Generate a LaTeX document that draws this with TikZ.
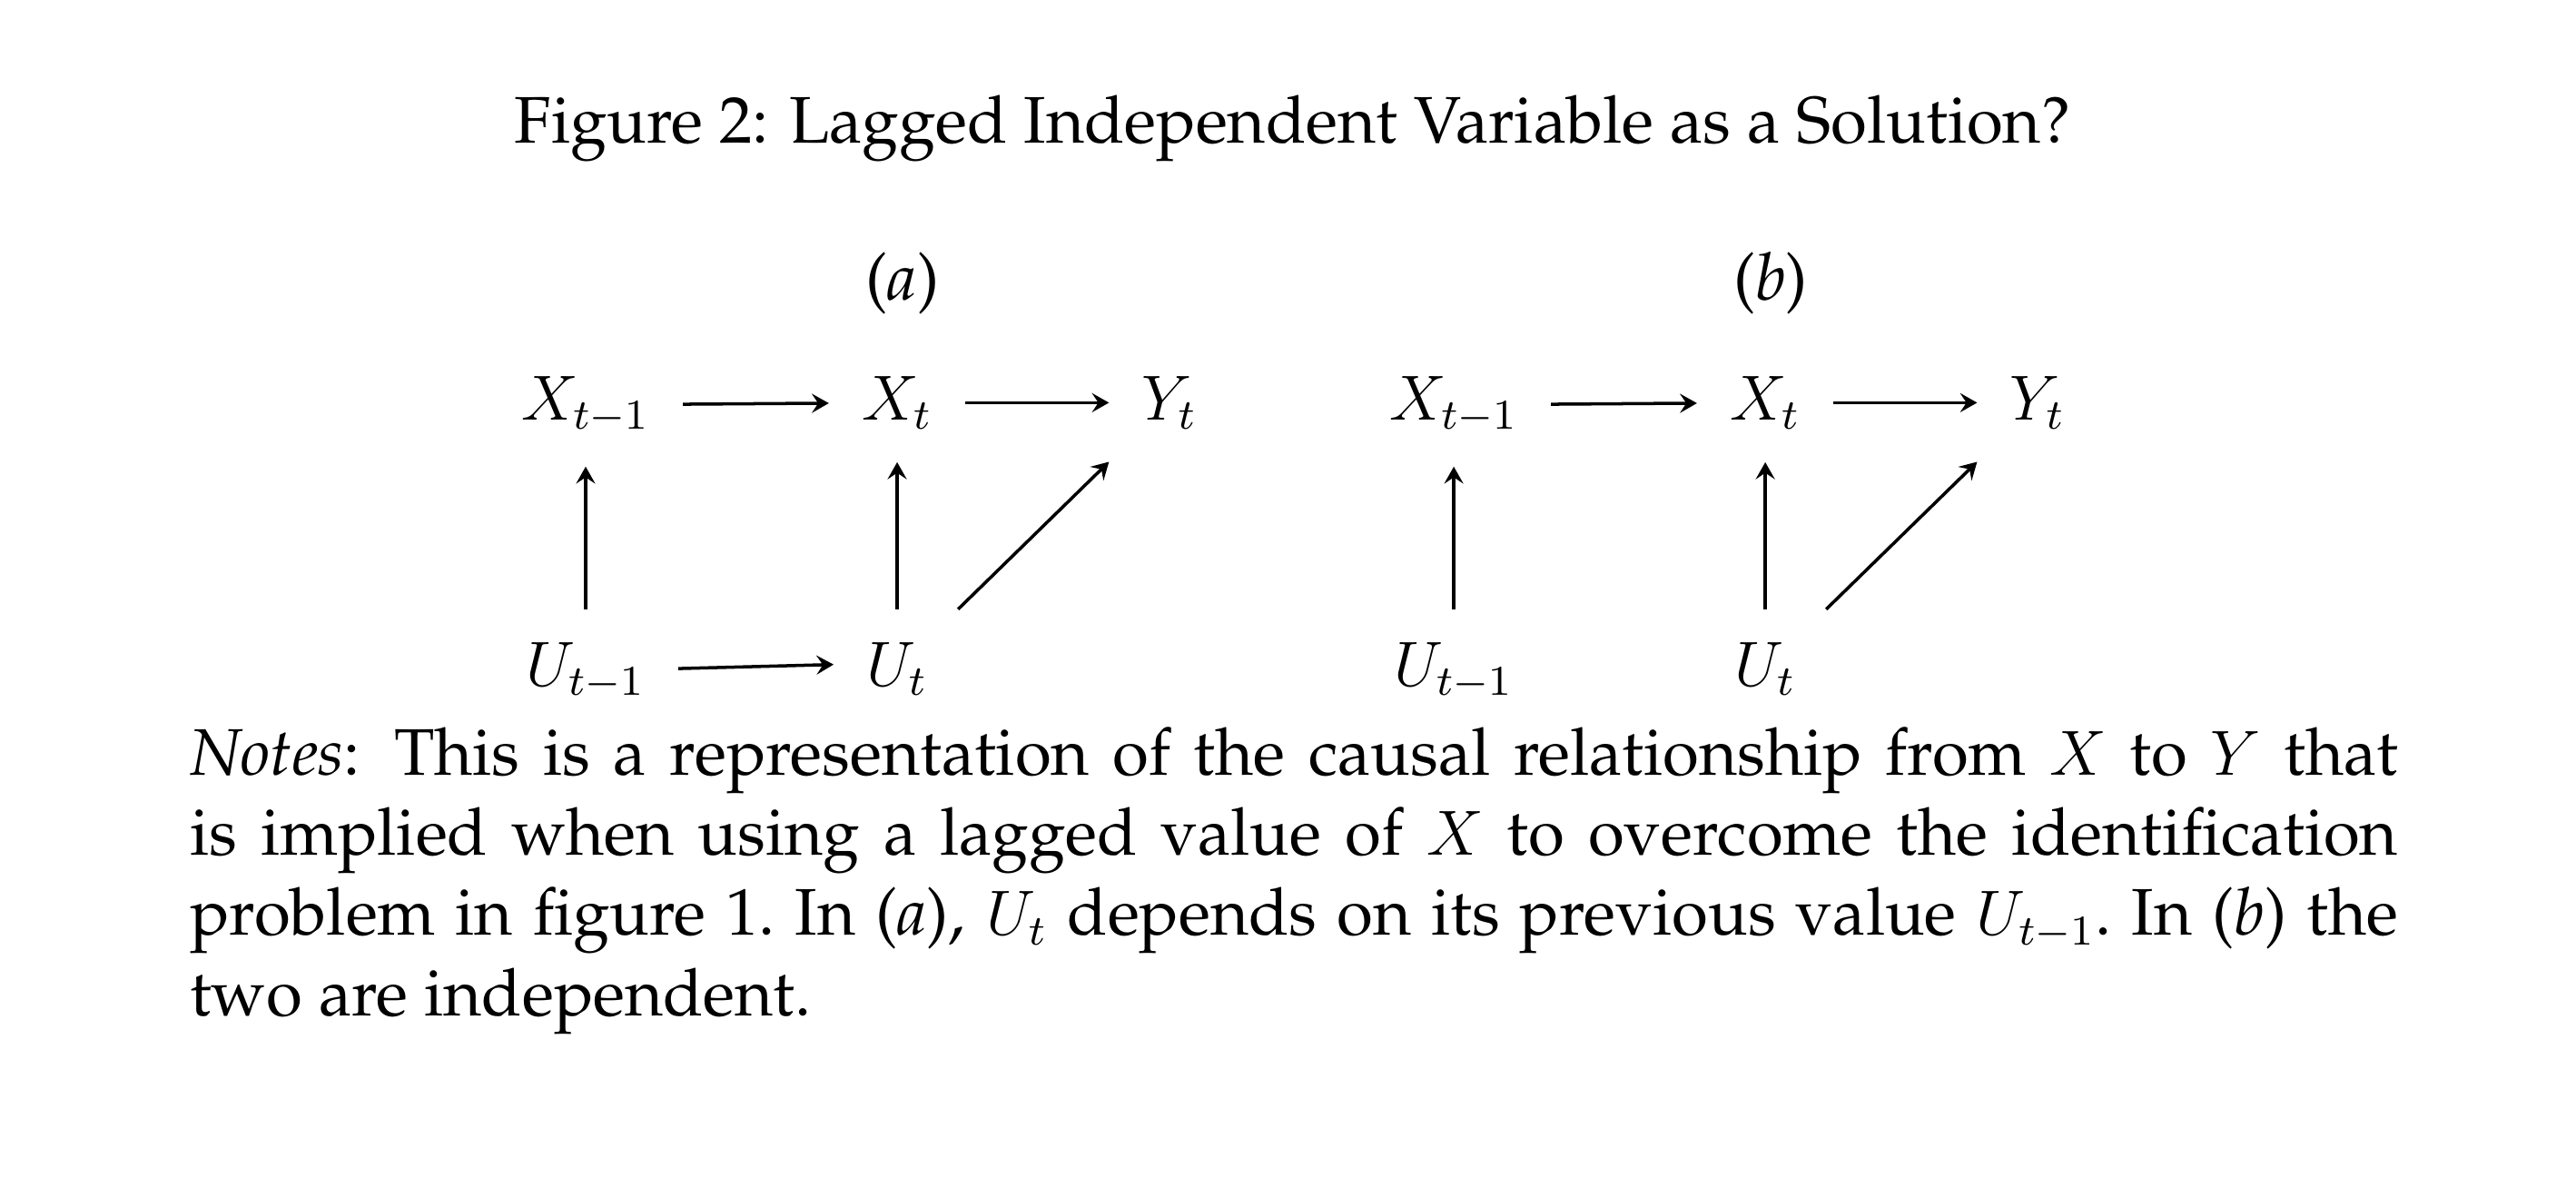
\documentclass[tikz,border=0pt]{standalone}
\usepackage[T1]{fontenc}
\renewcommand{\rmdefault}{ppl}
\DeclareMathSizes{12.4}{12.4}{8.27}{6.2}
\usetikzlibrary{arrows.meta}
\tikzset{
	var/.style={anchor=base,inner sep=6pt},
	causal/.style={line width=.6pt,-{Stealth[length=3.2pt,width=3.6pt,inset=1.2pt]}},
	panel/.style={anchor=base},
	notes/.style={anchor=base west,inner sep=0pt,text width=14.611cm,align=justify},
}
\begin{document}
\begin{tikzpicture}[font=\fontsize{12.4}{15.1}\selectfont]
	\useasboundingbox (0,0) rectangle (17.044,-7.786);
	\node [anchor=base] (title) at (8.552,-.949) {Figure 2: Lagged Independent Variable as a Solution?};
	% (a)
	\node [panel] (la) at (5.972,-1.983) {(\textit{a})};
	\node [var] (xa1) at (3.875,-2.776) {$X_{t-1}$};
	\node [var] (xa) at (5.936,-2.776) {$X_t$};
	\node [var] (ya) at (7.738,-2.776) {$Y_t$};
	\node [var] (ua1) at (3.875,-4.536) {$U_{t-1}$};
	\node [var] (ua) at (5.936,-4.536) {$U_t$};
	\draw [causal] (xa1) -- (xa);
	\draw [causal] (xa) -- (ya);
	\draw [causal] (ua1) -- (xa1);
	\draw [causal] (ua) -- (xa);
	\draw [causal] (ua) -- (ya);
	\draw [causal] (ua1) -- ([yshift=.8pt]ua.west);
	% (b)
	\node [panel] (lb) at (11.716,-1.983) {(\textit{b})};
	\node [var] (xb1) at (9.619,-2.776) {$X_{t-1}$};
	\node [var] (xb) at (11.680,-2.776) {$X_t$};
	\node [var] (yb) at (13.482,-2.776) {$Y_t$};
	\node [var] (ub1) at (9.619,-4.536) {$U_{t-1}$};
	\node [var] (ub) at (11.680,-4.536) {$U_t$};
	\draw [causal] (xb1) -- (xb);
	\draw [causal] (xb) -- (yb);
	\draw [causal] (ub1) -- (xb1);
	\draw [causal] (ub) -- (xb);
	\draw [causal] (ub) -- (yb);
	% notes
	\node [notes] (notes) at (1.250,-5.125) {\textit{Notes}: This is a representation of the causal relationship from $X$ to $Y$ that\linebreak
		is implied when using a lagged value of $X$ to overcome the identification\linebreak
		problem in figure 1.\ In (\textit{a}), $U_t$ depends on its previous value $U_{t-1}$.\ In (\textit{b}) the\linebreak
		two are independent.};
\end{tikzpicture}
\end{document}
